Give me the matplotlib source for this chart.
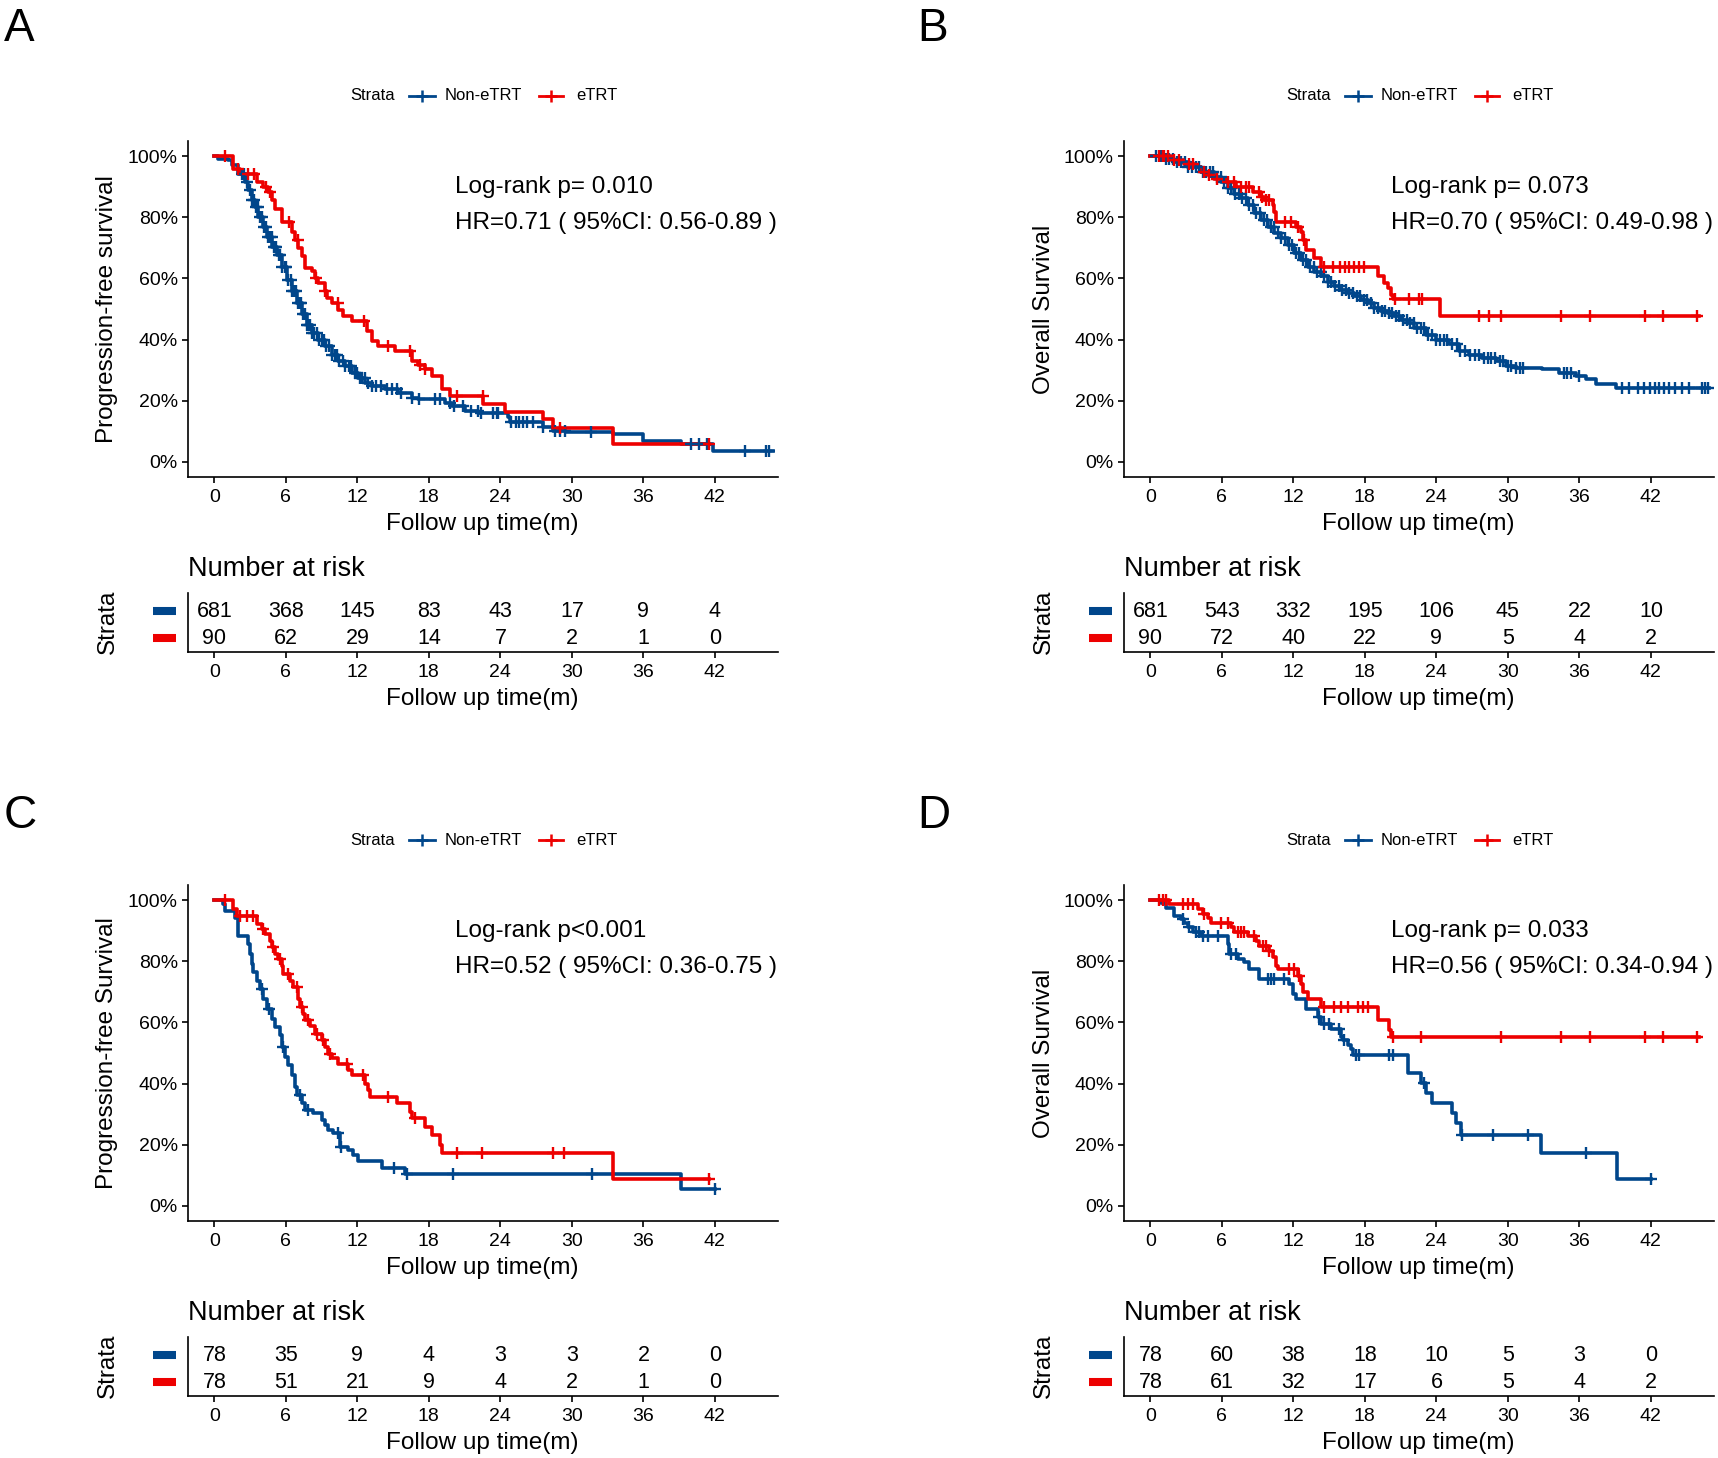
import numpy as np
import matplotlib
matplotlib.use("Agg")
import matplotlib.pyplot as plt
from matplotlib.lines import Line2D

plt.rcParams['font.family'] = ['Liberation Sans', 'DejaVu Sans']

BLUE = '#00468B'
RED = '#ED0000'
W, H = 1718, 1458

x_ticks = [0, 6, 12, 18, 24, 30, 36, 42]

# ---- panel A : PFS, whole cohort
A_blue_t = [0, 0.34, 1.17, 1.45, 2.01, 2.57, 2.85, 3.13, 3.41, 3.69, 4.11, 4.39, 4.81, 5.23, 5.65, 6.07,
            6.49, 6.91, 7.33, 7.75, 8.17, 8.73, 9.29, 9.85, 10.41, 10.97, 11.52, 12.08, 12.64, 13.20,
            14.32, 15.44, 16.56, 17.12, 19.36, 19.92, 21.03, 22.15, 24.64, 24.78, 27.58, 28.42, 29.54,
            33.45, 35.97, 39.19, 41.85]
A_blue_s = [1.0, 0.992, 0.987, 0.971, 0.943, 0.916, 0.889, 0.857, 0.835, 0.802, 0.770, 0.737, 0.704, 0.677,
            0.639, 0.596, 0.558, 0.520, 0.482, 0.449, 0.422, 0.400, 0.378, 0.351, 0.329, 0.313, 0.291,
            0.275, 0.259, 0.248, 0.237, 0.226, 0.210, 0.204, 0.193, 0.183, 0.166, 0.159, 0.145, 0.130,
            0.115, 0.101, 0.096, 0.092, 0.068, 0.058, 0.036]
A_blue_end = 46.88
A_blue_cens = [2.3, 2.5, 2.7, 3.0, 3.15, 3.3, 3.5, 3.65, 3.8, 4.0, 4.15, 4.3, 4.5, 4.65, 4.8, 5.0, 5.1, 5.2,
               5.4, 5.55, 5.7, 5.9, 6.05, 6.2, 6.4, 6.55, 6.7, 6.85, 7.0, 7.15, 7.3, 7.45, 7.6, 7.75, 7.9,
               8.05, 8.2, 8.4, 8.6, 8.8, 9.0, 9.2, 9.4, 9.6, 9.9, 10.1, 10.3, 10.5, 10.8, 11.0, 11.3, 11.5,
               11.8, 12.0, 12.2, 12.4, 12.6, 12.9, 13.2, 13.6, 14.0, 14.5, 14.9, 15.3, 15.7, 16.6, 17.2,
               18.5, 18.9, 19.8, 20.1, 20.9, 21.5, 22.1, 22.4, 23.4, 23.7, 23.8, 24.9, 25.3, 25.6, 25.9,
               26.2, 26.7, 27.6, 28.6, 29.0, 29.4, 31.6, 40.0, 40.7, 41.3, 44.5, 46.3, 46.5]
A_red_t = [0, 1.59, 2.15, 3.55, 4.11, 4.53, 4.81, 5.09, 5.65, 6.49, 6.77, 7.05, 7.33, 7.61, 8.17, 8.45, 8.73,
           9.29, 9.43, 9.85, 10.41, 10.83, 11.52, 12.78, 13.20, 13.76, 15.16, 16.56, 17.12, 17.68, 18.24,
           19.08, 19.78, 22.55, 24.36, 27.58, 28.42, 33.45]
A_red_s = [1.0, 0.957, 0.943, 0.916, 0.900, 0.884, 0.857, 0.829, 0.786, 0.753, 0.726, 0.699, 0.672, 0.634,
           0.623, 0.601, 0.585, 0.558, 0.536, 0.520, 0.498, 0.476, 0.460, 0.427, 0.395, 0.378, 0.362, 0.329,
           0.318, 0.302, 0.280, 0.237, 0.215, 0.188, 0.163, 0.139, 0.109, 0.058]
A_red_end = 41.51
A_red_cens = [0.9, 2.0, 2.85, 3.3, 4.3, 4.7, 6.3, 7.0, 8.5, 9.3, 10.4, 12.56, 14.6, 16.4, 17.26, 17.7,
              20.34, 22.5, 29.0, 41.5]
A_risk_blue = [681, 368, 145, 83, 43, 17, 9, 4]
A_risk_red = [90, 62, 29, 14, 7, 2, 1, 0]

# ---- panel B : OS, whole cohort
B_blue_t = [0, 1.17, 2.01, 3.13, 4.25, 5.37, 5.93, 6.49, 7.05, 7.61, 8.17, 8.73, 9.29, 9.85, 10.41, 10.97,
            11.52, 12.08, 12.64, 13.20, 13.76, 14.32, 14.88, 15.44, 16.00, 16.56, 17.12, 17.68, 18.24,
            18.80, 19.36, 19.92, 20.48, 21.03, 21.59, 22.15, 23.10, 23.94, 25.06, 25.90, 26.74, 27.86,
            28.98, 29.82, 30.66, 32.90, 34.29, 35.69, 36.53, 37.37, 39.05]
B_blue_s = [1.0, 0.992, 0.982, 0.965, 0.949, 0.933, 0.916, 0.895, 0.878, 0.862, 0.840, 0.813, 0.791, 0.770,
            0.748, 0.732, 0.710, 0.683, 0.661, 0.639, 0.620, 0.607, 0.590, 0.574, 0.563, 0.552, 0.541,
            0.530, 0.520, 0.503, 0.492, 0.487, 0.476, 0.465, 0.454, 0.438, 0.416, 0.400, 0.384, 0.362,
            0.351, 0.340, 0.329, 0.313, 0.308, 0.302, 0.291, 0.280, 0.270, 0.253, 0.242]
B_blue_end = 46.88
B_blue_cens = [0.5, 0.9, 1.3, 1.6, 1.9, 2.2, 2.6, 2.9, 3.2, 3.5, 3.8, 4.1, 4.4, 4.7, 5.0, 5.3, 5.6, 5.9,
               6.2, 6.5, 6.8, 7.1, 7.4, 7.7, 8.0, 8.3, 8.6, 8.9, 9.2, 9.5, 9.8, 10.1, 10.4, 10.7, 11.0,
               11.3, 11.6, 11.9, 12.2, 12.5, 12.8, 13.1, 13.4, 13.7, 14.0, 14.3, 14.6, 14.9, 15.2, 15.5,
               15.8, 16.1, 16.4, 16.7, 17.0, 17.3, 17.6, 17.9, 18.2, 18.5, 18.8, 19.1, 19.4, 19.7, 20.0,
               20.3, 20.6, 20.9, 21.2, 21.5, 21.8, 22.1, 22.4, 22.7, 23.0, 23.3, 23.6, 24.0, 24.3, 24.6,
               24.9, 25.3, 25.7, 26.0, 26.4, 26.8, 27.2, 27.6, 28.0, 28.3, 28.6, 28.9, 29.3, 29.6, 30.0,
               30.3, 30.7, 31.0, 31.3, 34.7, 35.0, 35.3, 36.0, 39.6, 40.2, 40.9, 41.4, 41.9, 42.3, 42.7,
               43.1, 43.5, 44.0, 44.6, 45.2, 46.3, 46.5, 46.8]
B_red_t = [0, 1.73, 2.85, 3.83, 4.25, 4.81, 5.37, 6.35, 7.19, 8.59, 9.29, 9.57, 10.27, 10.41, 10.55, 12.22,
           12.64, 12.78, 13.06, 13.76, 14.32, 19.08, 19.64, 19.92, 20.20, 20.34, 24.28]
B_red_s = [1.0, 0.989, 0.976, 0.965, 0.949, 0.938, 0.927, 0.916, 0.900, 0.884, 0.867, 0.857, 0.840, 0.818,
           0.786, 0.770, 0.753, 0.726, 0.693, 0.666, 0.639, 0.607, 0.585, 0.568, 0.547, 0.533, 0.476]
B_red_end = 46.04
B_red_cens = [0.76, 1.03, 1.17, 1.45, 2.0, 2.43, 3.27, 3.55, 4.5, 4.9, 5.6, 6.5, 7.0, 7.6, 8.0, 8.3, 9.1,
              9.4, 9.7, 9.95, 11.3, 11.8, 12.4, 12.9, 14.6, 15.3, 15.9, 16.3, 16.7, 17.1, 17.5, 17.9,
              20.5, 21.7, 22.55, 22.83, 27.58, 28.42, 29.40, 34.49, 36.87, 41.51, 43.02, 45.90]
B_risk_blue = [681, 543, 332, 195, 106, 45, 22, 10]
B_risk_red = [90, 72, 40, 22, 9, 5, 4, 2]

# ---- panel C : PFS, matched
C_blue_t = [0, 0.76, 0.90, 1.73, 2.01, 2.85, 2.99, 3.13, 3.27, 3.55, 3.83, 4.11, 4.39, 4.81, 5.09, 5.51,
            5.65, 5.93, 6.21, 6.49, 6.77, 6.91, 7.33, 7.61, 8.31, 9.01, 9.29, 9.57, 9.99, 10.55, 11.24,
            11.66, 12.08, 14.04, 16.00, 39.19]
C_blue_s = [1.0, 0.987, 0.965, 0.943, 0.884, 0.857, 0.824, 0.791, 0.764, 0.737, 0.710, 0.677, 0.645, 0.612,
            0.585, 0.558, 0.520, 0.487, 0.460, 0.427, 0.389, 0.362, 0.335, 0.313, 0.302, 0.280, 0.264,
            0.248, 0.237, 0.193, 0.183, 0.166, 0.145, 0.123, 0.103, 0.054]
C_blue_end = 41.99
C_blue_cens = [3.97, 4.59, 5.73, 7.19, 7.83, 10.41, 10.63, 15.10, 16.14, 20.06, 31.69, 41.99]
C_red_t = [0, 1.59, 1.87, 3.55, 3.97, 4.25, 4.67, 4.81, 5.09, 5.37, 5.65, 5.79, 6.35, 6.63, 7.05, 7.19,
           7.47, 7.61, 8.03, 8.45, 9.01, 9.29, 9.57, 9.85, 10.41, 11.24, 11.52, 12.64, 12.92, 13.06, 15.30,
           16.42, 16.56, 17.68, 18.24, 18.94, 19.08, 33.45]
C_red_s = [1.0, 0.971, 0.949, 0.922, 0.905, 0.889, 0.867, 0.846, 0.824, 0.808, 0.786, 0.759, 0.737, 0.715,
           0.677, 0.650, 0.628, 0.607, 0.590, 0.563, 0.541, 0.520, 0.498, 0.482, 0.465, 0.443, 0.427,
           0.400, 0.378, 0.357, 0.335, 0.308, 0.286, 0.259, 0.232, 0.199, 0.172, 0.087]
C_red_end = 41.51
C_red_cens = [0.90, 2.15, 2.71, 3.27, 4.11, 4.95, 5.51, 6.21, 6.91, 7.33, 7.89, 8.59, 9.15, 9.71, 11.10,
              12.50, 14.60, 16.84, 20.34, 22.43, 28.42, 29.31, 41.51]
C_risk_blue = [78, 35, 9, 4, 3, 3, 2, 0]
C_risk_red = [78, 51, 21, 9, 4, 2, 1, 0]

# ---- panel D : OS, matched
D_blue_t = [0, 0.90, 1.31, 2.01, 2.57, 2.85, 3.13, 3.55, 4.25, 6.49, 6.63, 7.33, 7.89, 8.31, 9.15, 11.66,
            11.94, 12.22, 13.06, 14.04, 14.32, 15.16, 16.00, 16.14, 16.56, 16.84, 16.98, 21.59, 22.69,
            23.10, 23.66, 25.34, 25.62, 26.04, 32.76, 39.19]
D_blue_s = [1.0, 0.992, 0.976, 0.949, 0.938, 0.927, 0.911, 0.895, 0.884, 0.857, 0.824, 0.808, 0.797, 0.775,
            0.742, 0.726, 0.693, 0.677, 0.645, 0.617, 0.596, 0.580, 0.552, 0.541, 0.525, 0.514, 0.492,
            0.433, 0.402, 0.370, 0.335, 0.302, 0.270, 0.232, 0.174, 0.088]
D_blue_end = 41.99
D_blue_cens = [2.71, 3.27, 3.83, 4.11, 4.39, 4.81, 5.65, 6.77, 7.19, 9.85, 10.13, 10.41, 11.24, 14.18,
               14.60, 15.02, 15.86, 16.28, 17.26, 17.54, 20.06, 20.34, 22.97, 26.18, 28.76, 31.69, 36.53,
               41.99]
D_red_t = [0, 1.59, 3.97, 4.39, 4.81, 5.09, 6.77, 7.05, 8.17, 8.87, 9.15, 9.99, 10.27, 10.55, 10.69, 12.36,
           12.64, 12.78, 13.20, 14.32, 19.08, 20.06, 20.20]
D_red_s = [1.0, 0.987, 0.971, 0.954, 0.943, 0.927, 0.911, 0.895, 0.884, 0.867, 0.851, 0.835, 0.813, 0.786,
           0.775, 0.753, 0.726, 0.699, 0.677, 0.650, 0.607, 0.574, 0.552]
D_red_end = 46.04
D_red_cens = [0.76, 1.03, 1.31, 2.71, 3.13, 3.55, 4.53, 5.93, 6.49, 7.33, 7.61, 7.89, 8.73, 9.43, 9.71,
              9.99, 11.66, 12.08, 12.50, 14.60, 15.44, 16.00, 16.56, 17.40, 17.82, 18.24, 20.34, 22.69,
              29.40, 34.49, 36.87, 41.51, 43.02, 45.90]
D_risk_blue = [78, 60, 38, 18, 10, 5, 3, 0]
D_risk_red = [78, 61, 32, 17, 6, 5, 4, 2]

panels = [
    dict(letter='A', ox=0, oy=0, lx=4, ly=7, ylab='Progression-free survival',
         blue=(A_blue_t, A_blue_s, A_blue_end, A_blue_cens), red=(A_red_t, A_red_s, A_red_end, A_red_cens),
         risk=(A_risk_blue, A_risk_red), p='Log-rank p= 0.010', hr='HR=0.71 ( 95%CI: 0.56-0.89 )'),
    dict(letter='B', ox=936, oy=0, lx=917, ly=7, ylab='Overall Survival',
         blue=(B_blue_t, B_blue_s, B_blue_end, B_blue_cens), red=(B_red_t, B_red_s, B_red_end, B_red_cens),
         risk=(B_risk_blue, B_risk_red), p='Log-rank p= 0.073', hr='HR=0.70 ( 95%CI: 0.49-0.98 )'),
    dict(letter='C', ox=0, oy=744, lx=4, ly=794, ylab='Progression-free Survival',
         blue=(C_blue_t, C_blue_s, C_blue_end, C_blue_cens), red=(C_red_t, C_red_s, C_red_end, C_red_cens),
         risk=(C_risk_blue, C_risk_red), p='Log-rank p<0.001', hr='HR=0.52 ( 95%CI: 0.36-0.75 )'),
    dict(letter='D', ox=936, oy=744, lx=917, ly=794, ylab='Overall Survival',
         blue=(D_blue_t, D_blue_s, D_blue_end, D_blue_cens), red=(D_red_t, D_red_s, D_red_end, D_red_cens),
         risk=(D_risk_blue, D_risk_red), p='Log-rank p= 0.033', hr='HR=0.56 ( 95%CI: 0.34-0.94 )'),
]


def fx(px):
    return px / W


def fy(py):
    return 1 - py / H


fig = plt.figure(figsize=(W / 100, H / 100), dpi=100)


def style_axis(ax):
    ax.spines['top'].set_visible(False)
    ax.spines['right'].set_visible(False)
    for s in ['left', 'bottom']:
        ax.spines[s].set_linewidth(1.2)
    ax.tick_params(length=4, width=1.2, labelsize=14, pad=3, colors='black')
    ax.tick_params(axis='x', pad=4.5)
    ax.set_xlim(-2.25, 47.25)
    ax.set_xticks(x_ticks)


def draw_curve(ax, t, s, end, cens, color):
    tt = list(t) + [end]
    ss = list(s) + [s[-1]]
    ax.step(tt, ss, where='post', color=color, lw=2.6, zorder=3)
    idx = np.searchsorted(np.array(t), np.array(cens), side='right') - 1
    cy = np.array(s)[idx]
    ax.plot(cens, cy, ls='none', marker='+', ms=9, mew=1.7, color=color, zorder=4)


for p in panels:
    ox, oy = p['ox'], p['oy']
    left = 187.5 + ox

    # main KM plot
    ax = fig.add_axes([fx(left), fy(477 + oy), fx(590), 336 / H])
    style_axis(ax)
    ax.set_ylim(-0.05, 1.05)
    ax.set_yticks([0, 0.2, 0.4, 0.6, 0.8, 1.0])
    ax.set_yticklabels(['0%', '20%', '40%', '60%', '80%', '100%'])
    draw_curve(ax, *p['blue'], BLUE)
    draw_curve(ax, *p['red'], RED)
    ax.text(20.2, 0.898, p['p'], fontsize=17.5, va='center', ha='left')
    ax.text(20.2, 0.781, p['hr'], fontsize=17.5, va='center', ha='left')

    fig.text(fx(107.5 + ox), fy(309 + oy), p['ylab'], rotation=90, fontsize=17.5, ha='center', va='center')
    fig.text(fx(482.5 + ox), fy(524 + oy), 'Follow up time(m)', fontsize=17.5, ha='center', va='center')

    # legend on top
    ly = fy(96 + oy)
    fig.text(fx(350 + ox), ly, 'Strata', fontsize=12, ha='left', va='center')
    fig.add_artist(Line2D([fx(409 + ox), fx(435 + ox)], [ly, ly], color=BLUE, lw=2.0, transform=fig.transFigure))
    fig.add_artist(Line2D([fx(422 + ox)], [ly], color=BLUE, marker='+', ms=9, mew=1.8, transform=fig.transFigure))
    fig.text(fx(445 + ox), ly, 'Non-eTRT', fontsize=12, ha='left', va='center')
    fig.add_artist(Line2D([fx(539 + ox), fx(563 + ox)], [ly, ly], color=RED, lw=2.0, transform=fig.transFigure))
    fig.add_artist(Line2D([fx(551 + ox)], [ly], color=RED, marker='+', ms=9, mew=1.8, transform=fig.transFigure))
    fig.text(fx(576 + ox), ly, 'eTRT', fontsize=12, ha='left', va='center')

    # panel letter
    fig.text(fx(p['lx']), fy(p['ly']), p['letter'], fontsize=33, ha='left', va='top')

    # risk table
    axt = fig.add_axes([fx(left), fy(652 + oy), fx(590), 59 / H])
    style_axis(axt)
    axt.set_ylim(0.5, 2.7)
    axt.set_yticks([])
    rb, rr = p['risk']
    for xt, nb, nr in zip(x_ticks, rb, rr):
        axt.text(xt, 2, str(nb), ha='center', va='center', fontsize=15.5)
        axt.text(xt, 1, str(nr), ha='center', va='center', fontsize=15.5)
    fig.text(fx(188 + ox), fy(568.5 + oy), 'Number at risk', fontsize=19.5, ha='left', va='center')
    fig.text(fx(482.5 + ox), fy(699 + oy), 'Follow up time(m)', fontsize=17.5, ha='center', va='center')
    fig.text(fx(107.5 + ox), fy(622 + oy), 'Strata', rotation=90, fontsize=17.5, ha='center', va='center')
    for yy, col in [(611, BLUE), (638, RED)]:
        fig.add_artist(Line2D([fx(153 + ox), fx(176 + ox)], [fy(yy + oy), fy(yy + oy)], color=col, lw=5.8,
                              solid_capstyle='butt', transform=fig.transFigure))

fig.savefig('out.png', dpi=100, facecolor='white')
